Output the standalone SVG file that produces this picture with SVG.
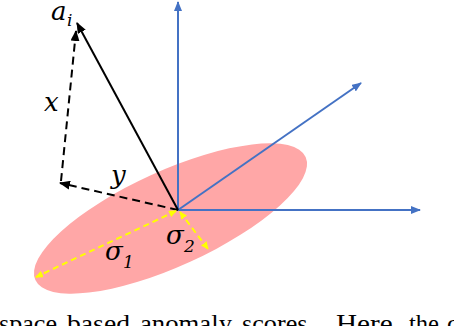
<svg xmlns="http://www.w3.org/2000/svg" width="454" height="326" viewBox="0 0 454 326">
  <style>
    .axis { stroke: #4472C4; stroke-width: 2; fill: none; }
    .vec { stroke: #000; stroke-width: 2; fill: none; }
    .dash { stroke: #000; stroke-width: 2; fill: none; stroke-dasharray: 8 5; }
    .ydash { stroke: #FFFF00; stroke-width: 2; fill: none; stroke-dasharray: 6 4; }
    .math { font-family: "DejaVu Serif", "Liberation Serif", serif; font-style: italic; fill: #000; }
    .caption { font-family: "Liberation Serif", "Times New Roman", serif; font-size: 26px; fill: #000; }
  </style>
  <defs>
    <marker id="arrBlue" markerUnits="userSpaceOnUse" markerWidth="10" markerHeight="8" refX="9" refY="4" orient="auto">
      <path d="M0,0 L10,4 L0,8 z" fill="#4472C4"/>
    </marker>
    <marker id="arrBlack" markerUnits="userSpaceOnUse" markerWidth="11" markerHeight="9" refX="10" refY="4.5" orient="auto">
      <path d="M0,0 L11,4.5 L0,9 z" fill="#000"/>
    </marker>
    <marker id="arrYellow" markerUnits="userSpaceOnUse" markerWidth="8" markerHeight="7" refX="7" refY="3.5" orient="auto-start-reverse">
      <path d="M0,0 L8,3.5 L0,7 z" fill="#FFFF00"/>
    </marker>
  </defs>

  <g id="ellipse">
    <ellipse cx="170.5" cy="218.5" rx="148.5" ry="47.5" transform="rotate(-24.5 170.5 218.5)" fill="#FFA7A7"/>
  </g>

  <g id="connectors">
    <line class="axis" x1="178" y1="210" x2="178" y2="2" marker-end="url(#arrBlue)"/>
    <line class="axis" x1="178" y1="210" x2="420" y2="210" marker-end="url(#arrBlue)"/>
    <line class="axis" x1="178" y1="210" x2="361" y2="83" marker-end="url(#arrBlue)"/>
    <line class="vec" x1="178" y1="210" x2="77" y2="23" marker-end="url(#arrBlack)"/>
    <line class="dash" x1="178" y1="210" x2="60" y2="183" marker-end="url(#arrBlack)"/>
    <line class="dash" x1="61" y1="181" x2="76" y2="31" marker-end="url(#arrBlack)"/>
    <line class="ydash" x1="176" y1="211" x2="36" y2="277" marker-start="url(#arrYellow)" marker-end="url(#arrYellow)"/>
    <line class="ydash" x1="180" y1="212" x2="208" y2="249" marker-start="url(#arrYellow)" marker-end="url(#arrYellow)"/>
  </g>

  <g id="label-ai">
    <text class="math" x="51" y="20" font-size="26">a</text>
    <text class="math" x="67" y="26" font-size="17">i</text>
  </g>
  <g id="label-x">
    <text class="math" x="44" y="111" font-size="26">x</text>
  </g>
  <g id="label-y">
    <text class="math" x="111" y="184" font-size="26">y</text>
  </g>
  <g id="label-sigma1">
    <text class="math" x="105" y="260" font-size="26">σ</text>
    <text class="math" x="123" y="268" font-size="17">1</text>
  </g>
  <g id="label-sigma2">
    <text class="math" x="166" y="244" font-size="26">σ</text>
    <text class="math" x="184" y="252" font-size="17">2</text>
  </g>

  <g id="caption">
    <text class="caption" x="-1" y="332" textLength="58" lengthAdjust="spacingAndGlyphs">space</text>
    <text class="caption" x="67" y="332" textLength="63" lengthAdjust="spacingAndGlyphs">based</text>
    <text class="caption" x="140" y="332" textLength="92" lengthAdjust="spacingAndGlyphs">anomaly</text>
    <text class="caption" x="242" y="332" textLength="72" lengthAdjust="spacingAndGlyphs">scores.</text>
    <text class="caption" x="336" y="332" textLength="64" lengthAdjust="spacingAndGlyphs">Here,</text>
    <text class="caption" x="409" y="332" textLength="30" lengthAdjust="spacingAndGlyphs">the</text>
    <text class="caption" x="447" y="332">c</text>
  </g>
</svg>
